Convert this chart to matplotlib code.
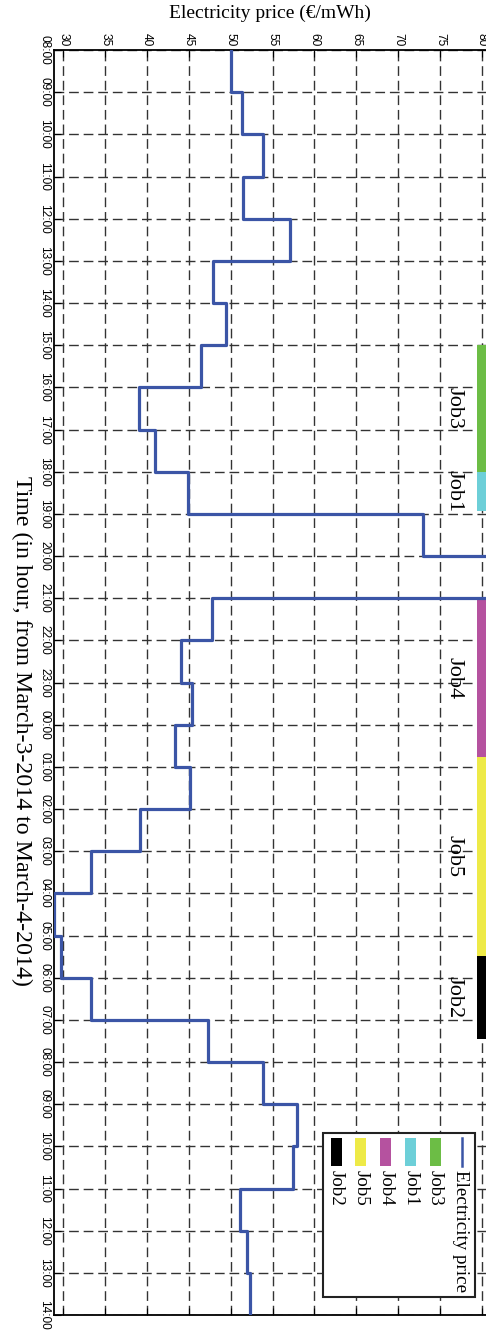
import matplotlib

matplotlib.use("Agg")
import matplotlib.pyplot as plt
import numpy as np
import pandas as pd
from matplotlib.patches import Rectangle
from matplotlib.lines import Line2D

# ---------------------------------------------------------------- datos
# precio por hora, desde 08:00 (3-mar) hasta 13:00 (4-mar)
price = [50.0, 51.4, 53.8, 51.5, 57.1, 47.9, 49.4, 46.5, 39.0, 41.0,
         44.9, 73.0, 84.0, 47.8, 44.1, 45.4, 43.4, 45.1, 39.2, 33.3,
         28.9, 29.7, 33.3, 47.3, 53.9, 57.9, 57.4, 51.1, 52.0, 52.3]
hours = pd.date_range("2014-03-03 08:00", periods=len(price) + 1, freq="h")
hour_labels = [h.strftime("%H:%M") for h in hours]

# trabajos: nombre, inicio / fin (horas desde 08:00), color
jobs = ["Job3", "Job1", "Job4", "Job5", "Job2"]
job_start = [7.0, 10.0, 13.0, 16.77, 21.48]
job_end = [10.0, 10.93, 16.77, 21.48, 23.45]
job_colors = ["#6cbd45", "#6dcfd8", "#b5529f", "#eeea47", "#000000"]

price_ticks = [30, 35, 40, 45, 50, 55, 60, 65, 70, 75, 80]

SERIF = ["Liberation Serif", "DejaVu Serif"]
SANS = ["Liberation Sans", "DejaVu Sans"]
LINE_C = "#3b55a6"

W, H = 486, 1334


def fx(px):
    return px / W


def fy(py):
    return 1 - py / H


fig = plt.figure(figsize=(W / 100, H / 100), dpi=100)
ax = fig.add_axes([fx(54.3), fy(1315), fx(496 - 54.3), (1315 - 50) / H])

t = np.arange(len(price) + 1)
ax.plot(price + [price[-1]], t, drawstyle="steps-pre", color=LINE_C, lw=2.3, zorder=3)

for s, e, c in zip(job_start, job_end, job_colors):
    ax.barh((s + e) / 2, 2.5, height=e - s, left=79.4, color=c, zorder=2, lw=0)
for name, s, e in zip(jobs, job_start, job_end):
    ax.text(76.7, (s + e) / 2, name, rotation=-90, ha="center", va="center",
            family=SERIF, fontsize=16, zorder=4)

ax.set_xlim(28.92, 81.7)
ax.set_ylim(len(price), 0)
ax.set_xticks(price_ticks)
ax.set_xticklabels([str(v) for v in price_ticks], rotation=-90, family=SANS, fontsize=8.6)
ax.set_yticks(t)
ax.set_yticklabels(hour_labels, rotation=-90, family=SANS, fontsize=8.6, va="center")
ax.xaxis.set_ticks_position("both")
ax.tick_params(axis="x", labeltop=True, labelbottom=False, direction="in", length=5, pad=3)
ax.tick_params(axis="y", direction="in", length=5, pad=3, right=False)
ax.spines["right"].set_visible(False)
for sp in ax.spines.values():
    sp.set_linewidth(1.3)
ax.set_axisbelow(True)
ax.grid(True, linestyle=(0, (7, 3.5)), color="#333333", lw=1.0)

fig.text(fx(270), fy(13), "Electricity price (€/mWh)", ha="center", va="center",
         family=SERIF, fontsize=14)
fig.text(fx(22), fy(731), "Time (in hour, from March-3-2014 to March-4-2014)",
         rotation=-90, ha="center", va="center", family=SERIF, fontsize=17.2)

# ---------------------------------------------------- leyenda (rotada)
leg_labels = ["Electricity price"] + jobs
leg_colors = [LINE_C] + job_colors
fig.add_artist(Rectangle((fx(322.7), fy(1296.7)), fx(475.3 - 322.7), (1296.7 - 1132.7) / H,
                         transform=fig.transFigure, fill=True, facecolor="white",
                         edgecolor="#222222", lw=1.5, zorder=5))
for i, (lab, col) in enumerate(zip(leg_labels, leg_colors)):
    xc = 460.5 - i * 24.9
    if i == 0:
        fig.add_artist(Line2D([fx(xc + 1), fx(xc + 1)], [fy(1138), fy(1166)],
                              transform=fig.transFigure, color=col, lw=1.8, zorder=6))
    else:
        fig.add_artist(Rectangle((fx(xc - 5.5), fy(1166)), fx(11), 28 / H,
                                 transform=fig.transFigure, color=col, lw=0, zorder=6))
    fig.text(fx(xc), fy(1170), lab, rotation=-90, ha="center", va="top",
             family=SERIF, fontsize=13.7, zorder=6)

fig.savefig("out.png", dpi=100)
